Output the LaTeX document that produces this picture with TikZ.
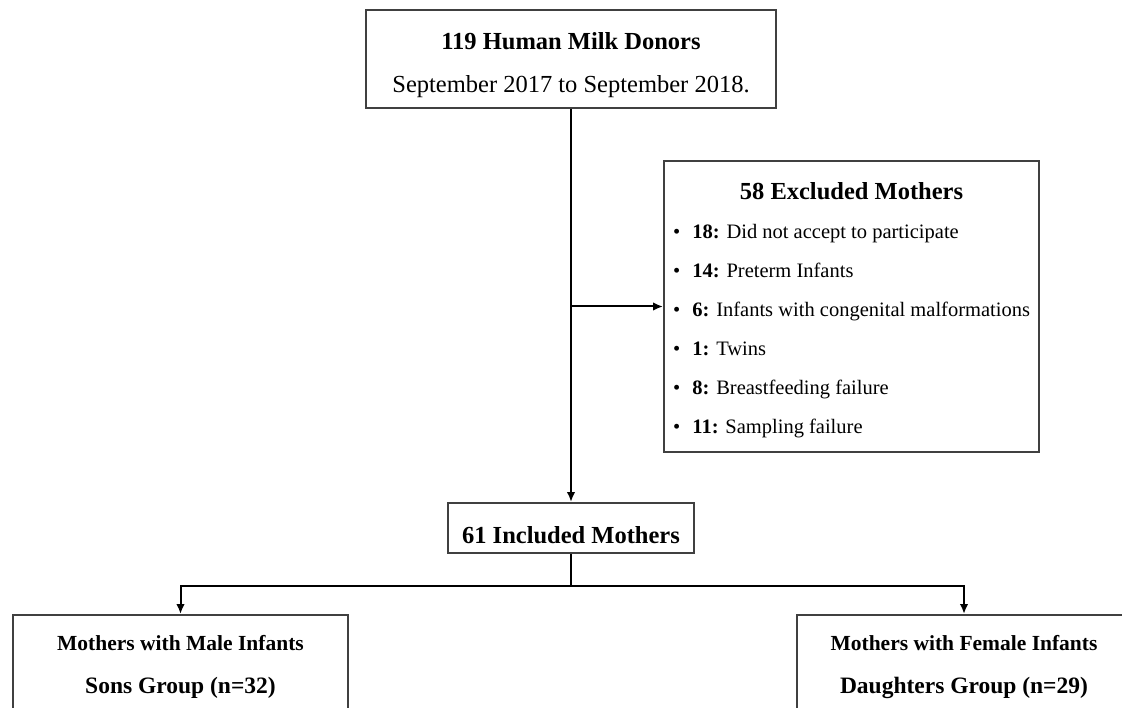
\documentclass[tikz,border=0pt]{standalone}
\usepackage{fontspec}
\setmainfont{Liberation Serif}
\usetikzlibrary{positioning, arrows.meta}
\tikzset{%
  flowbox/.style={draw=black!75, line width=2pt, fill=white, inner sep=0pt}, % the frames
  headtxt/.style={font=\fontsize{24.5}{28}\selectfont\bfseries, anchor=base, inner sep=0pt},
  plaintxt/.style={font=\fontsize{24.5}{28}\selectfont, anchor=base, inner sep=0pt},
  itemtxt/.style={font=\fontsize{20.5}{24}\selectfont, anchor=base west, inner sep=0pt},
  grouptxt/.style={font=\fontsize{21.5}{25}\selectfont\bfseries, anchor=base, inner sep=0pt},
  link/.style={draw, line width=2pt, -{Latex[length=10pt, width=8.5pt]}}
}

\begin{document}
\begin{tikzpicture}[x=1pt, y=-1pt]
\useasboundingbox (0,0) rectangle (1122,708);
\clip (0,0) rectangle (1122,708);

% frames
\node[flowbox, minimum width=410pt, minimum height=98pt] (donors) at (571,59) {};
\node[flowbox, minimum width=375pt, minimum height=291pt] (excl) at (851.5,306.5) {};
\node[flowbox, minimum width=246pt, minimum height=50pt] (incl) at (571,528) {};
\node[flowbox, minimum width=335pt, minimum height=100pt] (sons) at (180.5,665) {};
\node[flowbox, minimum width=335pt, minimum height=100pt] (daughters) at (964,665) {};

% texts
\node[headtxt] (donorsA) at (571,50) {119 Human Milk Donors};
\node[plaintxt] (donorsB) at (571,93) {September 2017 to September 2018.};

\node[headtxt] (exclT) at (851.5,200) {58 Excluded Mothers};
\node[itemtxt] (e1) at (673,239) {\textbullet\hspace{12pt}\textbf{18:} Did not accept to participate};
\node[itemtxt, below=39pt of e1.base west, anchor=base west] (e2) {\textbullet\hspace{12pt}\textbf{14:} Preterm Infants};
\node[itemtxt, below=39pt of e2.base west, anchor=base west] (e3) {\textbullet\hspace{12pt}\textbf{6:} Infants with congenital malformations};
\node[itemtxt, below=39pt of e3.base west, anchor=base west] (e4) {\textbullet\hspace{12pt}\textbf{1:} Twins};
\node[itemtxt, below=39pt of e4.base west, anchor=base west] (e5) {\textbullet\hspace{12pt}\textbf{8:} Breastfeeding failure};
\node[itemtxt, below=39pt of e5.base west, anchor=base west] (e6) {\textbullet\hspace{12pt}\textbf{11:} Sampling failure};

\node[headtxt] (inclT) at (571,543) {61 Included Mothers};

\node[grouptxt] (sonsA) at (180.5,650) {Mothers with Male Infants};
\node[headtxt, font=\fontsize{23.5}{28}\selectfont\bfseries] (sonsB) at (180.5,693) {Sons Group (n=32)};
\node[grouptxt] (daughtersA) at (964,650) {Mothers with Female Infants};
\node[headtxt, font=\fontsize{23.5}{28}\selectfont\bfseries] (daughtersB) at (964,693) {Daughters Group (n=29)};

% connectors
\coordinate (split) at (donors.south |- excl.west);
\coordinate (fork) at (571,586);
\draw[link] (donors.south) -- (incl.north);
\draw[link] (split) -- (excl.west);
\draw[line width=2pt] (incl.south) -- (fork);
\draw[link] (fork) -| (sons.north);
\draw[link] (fork) -| (daughters.north);

\end{tikzpicture}
\end{document}
